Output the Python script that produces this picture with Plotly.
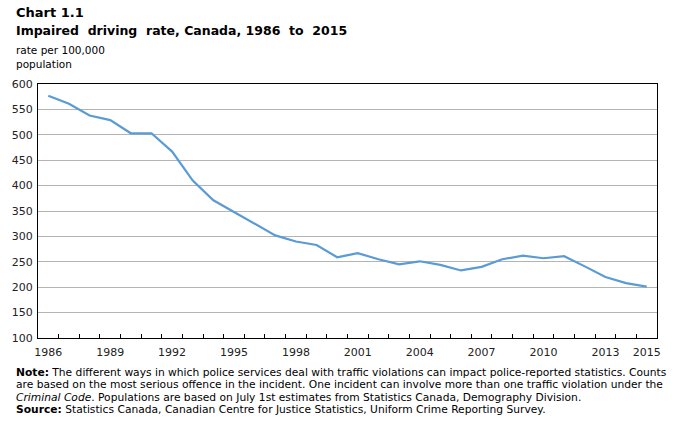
import plotly.graph_objects as go

years = list(range(1986, 2016))
rates = [577, 561, 538, 529, 503, 503, 467, 410, 371, 348, 325, 302, 290, 283, 259,
         267, 255, 245, 251, 244, 233, 240, 255, 262, 257, 261, 241, 220, 208, 201]
label_years = [1986, 1989, 1992, 1995, 1998, 2001, 2004, 2007, 2010, 2013, 2015]
y_ticks = list(range(100, 601, 50))

FONT = "DejaVu Sans"
fig = go.Figure()
fig.add_trace(go.Scatter(x=years, y=rates, mode="lines",
                         line=dict(color="#5B9BD5", width=2.2),
                         hoverinfo="x+y", showlegend=False))

fig.update_layout(
    width=673, height=421,
    margin=dict(l=32, r=13, t=84, b=83),
    paper_bgcolor="white", plot_bgcolor="white",
    font=dict(family=FONT, size=11, color="#222"),
    xaxis=dict(range=[1985.5, 2015.5], tickvals=label_years,
               ticktext=[str(y) for y in label_years],
               ticks="", showgrid=False, zeroline=False,
               showline=True, linecolor="black", linewidth=1.2, mirror=True,
               tickfont=dict(size=11, color="#222"), ticklabelstandoff=4,
               minor=dict(tickvals=[y + 0.5 for y in years[:-1]], ticks="inside",
                          ticklen=4, tickcolor="black", showgrid=False)),
    yaxis=dict(range=[100, 600], tickvals=y_ticks, ticks="",
               showgrid=True, gridcolor="#b4b4b4", gridwidth=1, zeroline=False,
               showline=True, linecolor="black", linewidth=1.2, mirror=True,
               tickfont=dict(size=11, color="#222"), ticklabelstandoff=2),
)

anns = [
    dict(x=8, y=12, text="<b>Chart 1.1</b>", size=13),
    dict(x=8, y=31, text="<b>Impaired  driving  rate, Canada, 1986  to  2015</b>", size=12.5),
    dict(x=8, y=50, text="rate per 100,000", size=10.5),
    dict(x=8, y=64, text="population", size=10.5),
    dict(x=8, y=372, text="<b>Note:</b> The different ways in which police services deal with traffic violations can impact police-reported statistics. Counts", size=10.7),
    dict(x=8, y=384.5, text="are based on the most serious offence in the incident. One incident can involve more than one traffic violation under the", size=10.7),
    dict(x=8, y=397, text="<i>Criminal Code</i>. Populations are based on July 1st estimates from Statistics Canada, Demography Division.", size=10.7),
    dict(x=8, y=409.5, text="<b>Source:</b> Statistics Canada, Canadian Centre for Justice Statistics, Uniform Crime Reporting Survey.", size=10.7),
]
for a in anns:
    fig.add_annotation(xref="paper", yref="paper",
                       x=(a["x"] - 32) / 628,
                       y=(338 - a["y"]) / 254,
                       text=a["text"], showarrow=False, xanchor="left", yanchor="middle",
                       font=dict(family=FONT, size=a["size"], color="black"))

fig.write_html("out.html")
